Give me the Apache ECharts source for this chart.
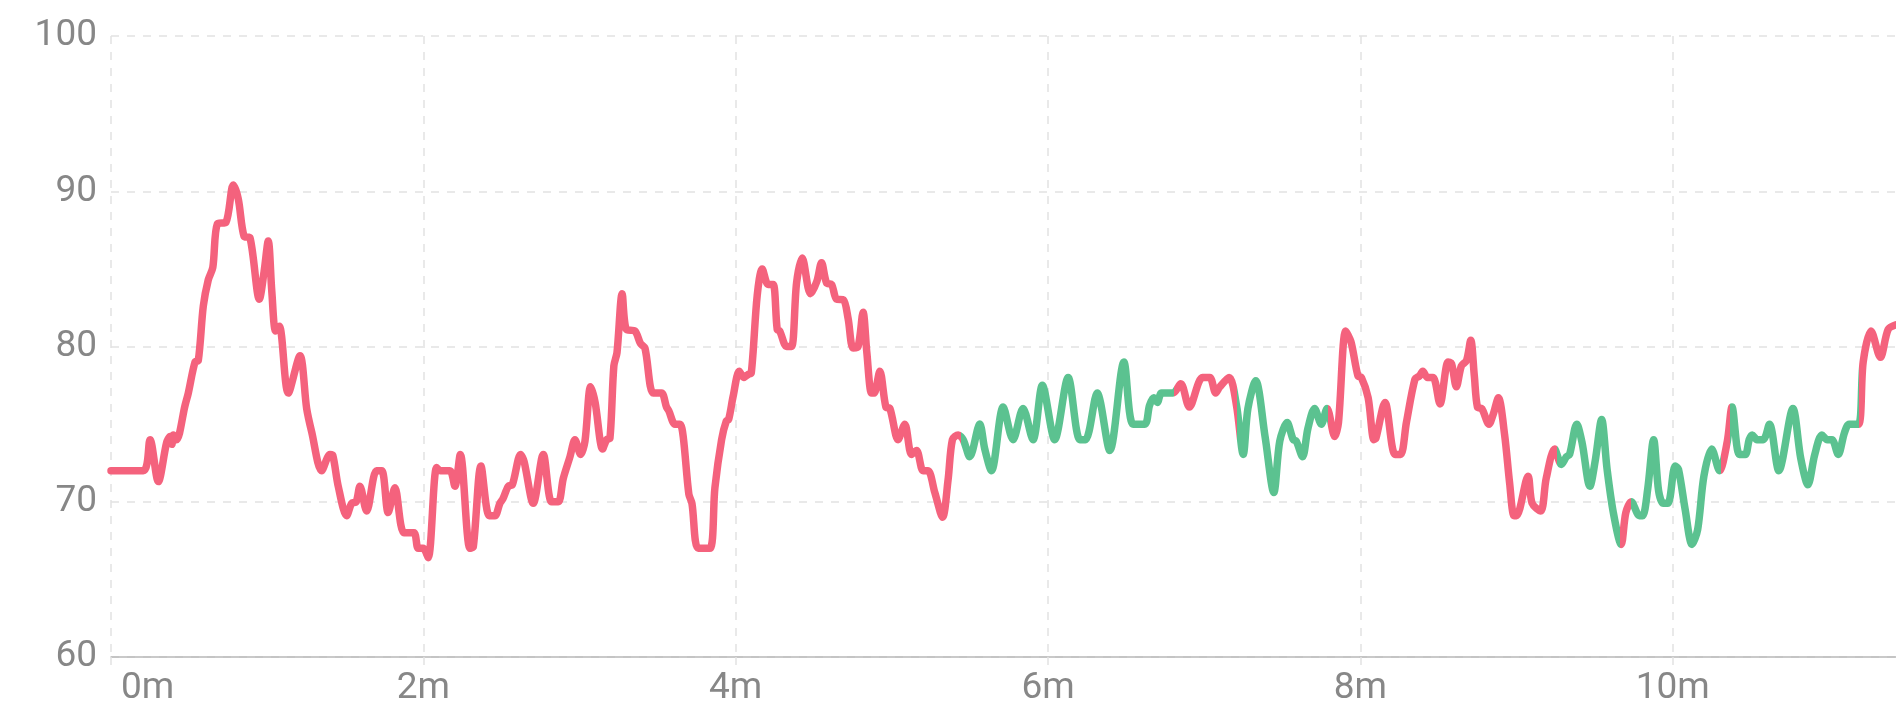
<!DOCTYPE html>
<html>
<head>
<meta charset="utf-8">
<script src="https://cdn.jsdelivr.net/npm/echarts@6/dist/echarts.min.js"></script>
<style>
  html, body { margin: 0; padding: 0; background: #ffffff; }
  #chart { width: 1896px; height: 720px; }
</style>
</head>
<body>
<div id="chart"></div>
<script>
// Time in minutes
const times = [
  0.000, 0.207, 0.25, 0.303, 0.356, 0.378, 0.39, 0.40, 0.42, 0.474,
  0.495, 0.538, 0.559, 0.591, 0.623, 0.652, 0.681, 0.736, 0.783, 0.815,
  0.852, 0.890, 0.950, 0.980, 1.007, 1.03, 1.054, 1.078, 1.135, 1.21,
  1.253, 1.285, 1.349, 1.402, 1.42, 1.455, 1.509, 1.541, 1.57, 1.594,
  1.637, 1.70, 1.734, 1.775, 1.818, 1.876, 1.94, 1.967, 1.999, 2.031,
  2.085, 2.11, 2.17, 2.202, 2.237, 2.298, 2.32, 2.369, 2.422, 2.458,
  2.49, 2.51, 2.544, 2.57, 2.623, 2.645, 2.704, 2.768, 2.821, 2.864,
  2.896, 2.939, 2.971, 3.007, 3.035, 3.071, 3.10, 3.148, 3.174, 3.195,
  3.22, 3.24, 3.273, 3.30, 3.355, 3.39, 3.419, 3.472, 3.525, 3.557,
  3.572, 3.611, 3.643, 3.664, 3.70, 3.72, 3.76, 3.835, 3.867, 3.91,
  3.94, 3.955, 3.984, 4.023, 4.052, 4.08, 4.10, 4.138, 4.17, 4.208,
  4.24, 4.266, 4.282, 4.326, 4.358, 4.39, 4.426, 4.479, 4.52, 4.55,
  4.582, 4.614, 4.646, 4.69, 4.72, 4.752, 4.784, 4.816, 4.84, 4.87,
  4.887, 4.923, 4.962, 4.988, 5.04, 5.083, 5.126, 5.158, 5.20, 5.232,
  5.275, 5.325, 5.36, 5.388, 5.425, 5.457, 5.499, 5.563, 5.595, 5.638,
  5.713, 5.776, 5.84, 5.904, 5.964, 6.043, 6.129, 6.204, 6.24, 6.315,
  6.396, 6.486, 6.545, 6.62, 6.65, 6.677, 6.70, 6.727, 6.80, 6.85,
  6.905, 6.989, 7.036, 7.074, 7.10, 7.16, 7.207, 7.25, 7.28, 7.33,
  7.39, 7.446, 7.484, 7.531, 7.57, 7.59, 7.63, 7.664, 7.707, 7.75,
  7.787, 7.836, 7.86, 7.906, 7.94, 7.985, 8.007, 8.05, 8.087, 8.10,
  8.158, 8.222, 8.258, 8.295, 8.35, 8.378, 8.40, 8.43, 8.466, 8.51,
  8.562, 8.584, 8.615, 8.647, 8.68, 8.707, 8.73, 8.75, 8.778, 8.824,
  8.85, 8.884, 8.924, 8.956, 8.984, 9.0, 9.074, 9.1, 9.155, 9.19,
  9.244, 9.287, 9.32, 9.34, 9.386, 9.42, 9.47, 9.505, 9.545, 9.58,
  9.62, 9.67, 9.70, 9.735, 9.787, 9.808, 9.84, 9.878, 9.91, 9.94,
  9.97, 10.016, 10.037, 10.08, 10.124, 10.16, 10.2, 10.25, 10.30, 10.35,
  10.38, 10.427, 10.465, 10.49, 10.51, 10.54, 10.58, 10.62, 10.68, 10.77,
  10.82, 10.866, 10.91, 10.956, 10.99, 11.02, 11.06, 11.10, 11.13, 11.19,
  11.22, 11.27, 11.33, 11.38, 11.43
];
// Heart rate (bpm)
const heartRate = [
  72, 72, 74.0, 71.3, 73.8, 74.2, 73.7, 74.3, 74.0, 76.2,
  77.0, 79.0, 79.1, 82.6, 84.3, 85.1, 87.9, 88.0, 90.4, 89.5,
  87.1, 87.0, 83.05, 84.8, 86.8, 83.5, 81.0, 81.3, 77.0, 79.4,
  76.0, 74.5, 72.0, 73.05, 73.0, 71.0, 69.1, 69.9, 70.0, 71.0,
  69.4, 72.0, 72.0, 69.3, 70.9, 68.0, 68.0, 67.0, 67.0, 66.4,
  72.2, 72.0, 72.0, 71.0, 73.05, 67.0, 67.1, 72.3, 69.1, 69.1,
  69.9, 70.2, 71.0, 71.1, 73.05, 72.6, 69.9, 73.05, 70.0, 70.0,
  71.5, 72.9, 74.0, 73.05, 73.9, 77.4, 76.4, 73.4, 74.0, 74.1,
  78.75, 79.6, 83.4, 81.1, 81.0, 80.2, 79.9, 77.0, 77.0, 76.1,
  75.85, 75.0, 75.0, 74.2, 70.5, 69.9, 67.0, 67.0, 70.9, 74.0,
  75.2, 75.3, 76.8, 78.4, 78.0, 78.2, 78.3, 83.3, 85.0, 84.0,
  84.0, 81.1, 81.0, 80.0, 80.0, 84.1, 85.7, 83.4, 84.2, 85.4,
  84.1, 84.0, 83.05, 83.0, 81.8, 79.9, 80.0, 82.2, 79.6, 77.0,
  77.0, 78.4, 76.1, 76.0, 74.0, 75.0, 73.05, 73.3, 72.0, 72.0,
  70.6, 69.0, 71.4, 74.0, 74.3, 74.0, 72.9, 75.0, 73.4, 72.0,
  76.1, 74.0, 76.0, 74.0, 77.5, 74.0, 78.0, 74.0, 74.0, 77.0,
  73.3, 79.0, 75.0, 75.0, 76.2, 76.7, 76.4, 77.0, 77.0, 77.6,
  76.1, 78.0, 78.0, 77.0, 77.4, 78.0, 76.2, 73.05, 76.0, 77.8,
  74.2, 70.6, 73.9, 75.1, 74.0, 73.9, 72.9, 74.7, 76.0, 75.0,
  76.0, 74.2, 75.1, 81.0, 80.3, 78.1, 78.0, 76.7, 74.0, 74.1,
  76.4, 73.05, 73.05, 75.1, 77.9, 78.1, 78.4, 78.0, 78.0, 76.3,
  79.0, 78.9, 77.4, 78.75, 79.1, 80.4, 78.1, 76.1, 76.0, 75.0,
  75.6, 76.7, 74.3, 71.2, 69.1, 69.1, 71.65, 69.9, 69.4, 71.5,
  73.4, 72.4, 72.9, 73.05, 75.0, 73.8, 71.0, 72.7, 75.3, 72.1,
  69.3, 67.25, 69.3, 70.0, 69.1, 69.1, 70.8, 74.0, 70.7, 69.9,
  69.9, 72.3, 72.1, 69.5, 67.25, 68.2, 71.65, 73.4, 72.0, 73.9,
  76.1, 73.05, 73.05, 74.0, 74.3, 74.0, 74.0, 75.0, 72.0, 76.0,
  72.8, 71.1, 73.05, 74.3, 74.0, 74.0, 73.05, 74.45, 75.0, 75.0,
  79.0, 81.0, 79.3, 81.1, 81.4
];
// Time spans (minutes) drawn in green; the rest is red
const greenZones = [
  [5.445, 6.81], [7.21, 7.79], [9.26, 9.665], [9.73, 10.31], [10.37, 11.19]
];
const yTicks = [60, 70, 80, 90, 100];
const xMaxMinutes = 12;

const RED = '#f4627d';
const GREEN = '#5bc290';
const LABEL = '#878787';

const pieces = [];
let prev = -Infinity;
greenZones.forEach(function (z) {
  pieces.push({ gte: prev, lt: z[0], color: RED });
  pieces.push({ gte: z[0], lt: z[1], color: GREEN });
  prev = z[1];
});
pieces.push({ gte: prev, color: RED });

const chart = echarts.init(document.getElementById('chart'), null, { renderer: 'canvas' });
chart.setOption({
  animation: false,
  backgroundColor: '#ffffff',
  grid: { left: 111, top: 36, right: -89, bottom: 63, containLabel: false, outerBoundsMode: 'none' },
  xAxis: {
    type: 'value',
    min: 0,
    max: xMaxMinutes,
    interval: 2,
    axisLine: { show: true, lineStyle: { color: '#b8b8b8', width: 1.5 } },
    axisTick: { show: true, length: 13, lineStyle: { color: '#e2e2e2', type: [8, 8], width: 1.5 } },
    splitLine: { show: true, lineStyle: { color: '#e2e2e2', type: [8, 8], width: 1.5 } },
    axisLabel: {
      color: LABEL,
      fontFamily: 'Roboto',
      fontSize: 37,
      margin: 13,
      alignMinLabel: 'left',
      formatter: function (v) { return v === 0 ? '{first|0m}' : v + 'm'; },
      rich: {
        first: { color: LABEL, fontFamily: 'Roboto', fontSize: 37, padding: [0, 0, 0, 10] }
      }
    }
  },
  yAxis: {
    type: 'value',
    min: yTicks[0],
    max: yTicks[yTicks.length - 1],
    interval: 10,
    axisLine: { show: false },
    axisTick: { show: false },
    splitLine: { show: true, lineStyle: { color: '#e2e2e2', type: [8, 8], width: 1.5 } },
    axisLabel: { color: LABEL, fontFamily: 'Roboto', fontSize: 37, margin: 14 }
  },
  visualMap: {
    show: false,
    type: 'piecewise',
    dimension: 0,
    seriesIndex: 0,
    pieces: pieces
  },
  series: [{
    type: 'line',
    data: times.map(function (t, i) { return [t, heartRate[i]]; }),
    showSymbol: false,
    smooth: 0.3,
    lineStyle: { width: 7.5, join: 'round', cap: 'round' }
  }]
});
</script>
</body>
</html>
